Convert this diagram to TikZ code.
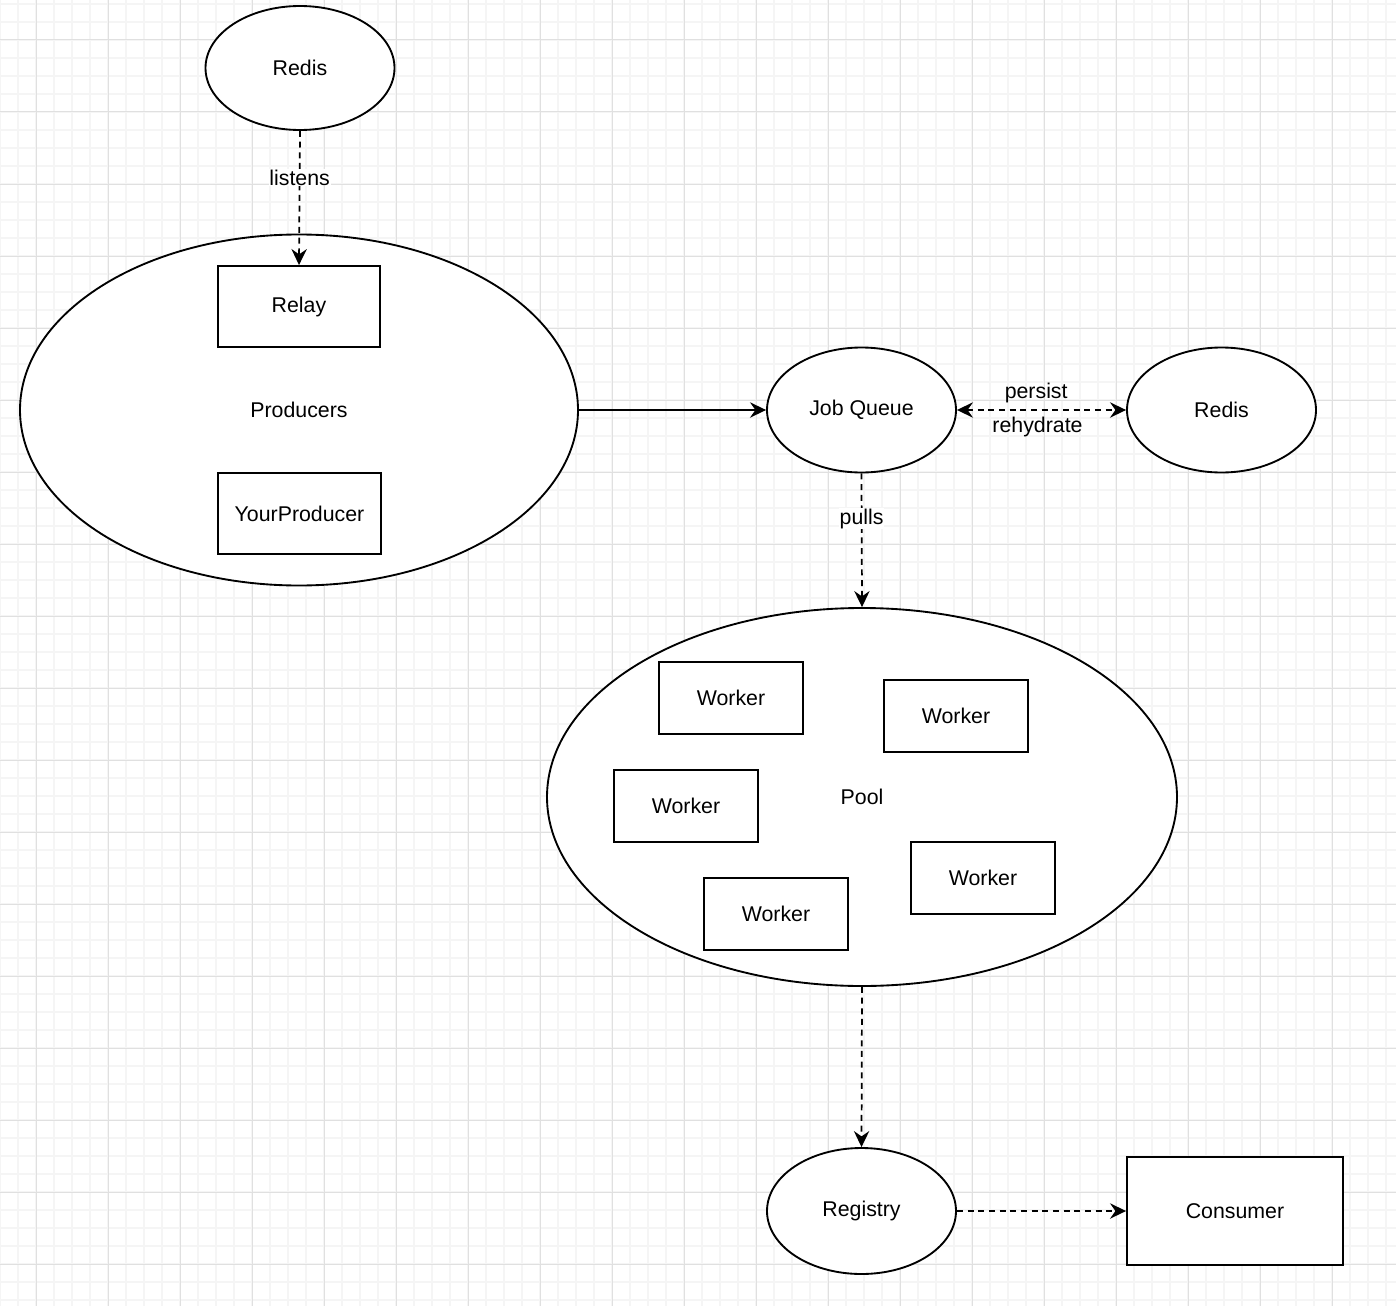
\documentclass[tikz,border=0pt]{standalone}
\usepackage{fontspec}
\setmainfont{Liberation Sans}
\usetikzlibrary{shapes.geometric,arrows.meta}
\definecolor{gridmajor}{HTML}{E0E0E0}
\definecolor{gridminor}{HTML}{F5F5F5}
\tikzset{
  base/.style={draw=black, line width=1.4pt, fill=white, inner sep=0pt, font=\fontsize{16}{19}\selectfont},
  ell/.style={base, ellipse},
  box/.style={base, rectangle},
  conn/.style={line width=1.3pt, -{Stealth[length=12pt,width=11.5pt,inset=4pt]}},
  dconn/.style={conn, dash pattern=on 4.5pt off 3.5pt},
  lbl/.style={fill=white, inner sep=0.5pt, font=\fontsize{16}{19}\selectfont}
}
\begin{document}
\begin{tikzpicture}[x=0.75pt, y=-0.75pt]
\useasboundingbox (0,0) rectangle (1396,1306);
\fill[white] (0,0) rectangle (1396,1306);
% grid
\foreach \x in {0,18,...,1396} \draw[gridminor, line width=1.2pt] (\x,0) -- (\x,1306);
\foreach \y in {4,22,...,1306} \draw[gridminor, line width=1.2pt] (0,\y) -- (1396,\y);
\foreach \x in {36,108,...,1396} \draw[gridmajor, line width=0.75pt] (\x,0) -- (\x,1306);
\foreach \y in {40,112,...,1306} \draw[gridmajor, line width=0.75pt] (0,\y) -- (1396,\y);

% nodes
\node[ell, minimum width=189*0.75pt, minimum height=124*0.75pt] (redisA) at (300,68) {Redis};
\node[ell, minimum width=558*0.75pt, minimum height=351*0.75pt] (prod) at (299,410) {Producers};
\node[box, minimum width=162*0.75pt, minimum height=81*0.75pt] (relay) at (299,306.5) {Relay};
\node[box, minimum width=163*0.75pt, minimum height=81*0.75pt] (yourprod) at (299.5,513.5) {YourProducer};
\node[ell, minimum width=189*0.75pt, minimum height=125*0.75pt] (jq) at (861.5,410) {Job Queue};
\node[ell, minimum width=189*0.75pt, minimum height=125*0.75pt] (redisB) at (1221.5,410) {Redis};
\node[ell, minimum width=630*0.75pt, minimum height=378*0.75pt] (pool) at (862,797) {Pool};
\node[box, minimum width=144*0.75pt, minimum height=72*0.75pt] (w1) at (731,698) {Worker};
\node[box, minimum width=144*0.75pt, minimum height=72*0.75pt] (w2) at (956,716) {Worker};
\node[box, minimum width=144*0.75pt, minimum height=72*0.75pt] (w3) at (686,806) {Worker};
\node[box, minimum width=144*0.75pt, minimum height=72*0.75pt] (w4) at (983,878) {Worker};
\node[box, minimum width=144*0.75pt, minimum height=72*0.75pt] (w5) at (776,914) {Worker};
\node[ell, minimum width=189*0.75pt, minimum height=126*0.75pt] (reg) at (861.5,1211) {Registry};
\node[box, minimum width=216*0.75pt, minimum height=108*0.75pt] (cons) at (1235,1211) {Consumer};

% connectors
\draw[dconn] (redisA.south) -- node[lbl, pos=0.35] {listens} (relay.north);
\draw[conn] (prod.east) -- (jq.west);
\draw[dconn, {Stealth[length=12pt,width=11.5pt,inset=4pt]}-{Stealth[length=12pt,width=11.5pt,inset=4pt]}] (jq.east) -- node[lbl, above=4pt, xshift=-4pt, fill=none] {persist} node[lbl, below=4pt, xshift=-3pt, fill=none] {rehydrate} (redisB.west);
\draw[dconn] (jq.south) -- node[lbl, pos=0.34] {pulls} (pool.north);
\draw[dconn] (pool.south) -- (reg.north);
\draw[dconn] (reg.east) -- (cons.west);
\end{tikzpicture}
\end{document}
